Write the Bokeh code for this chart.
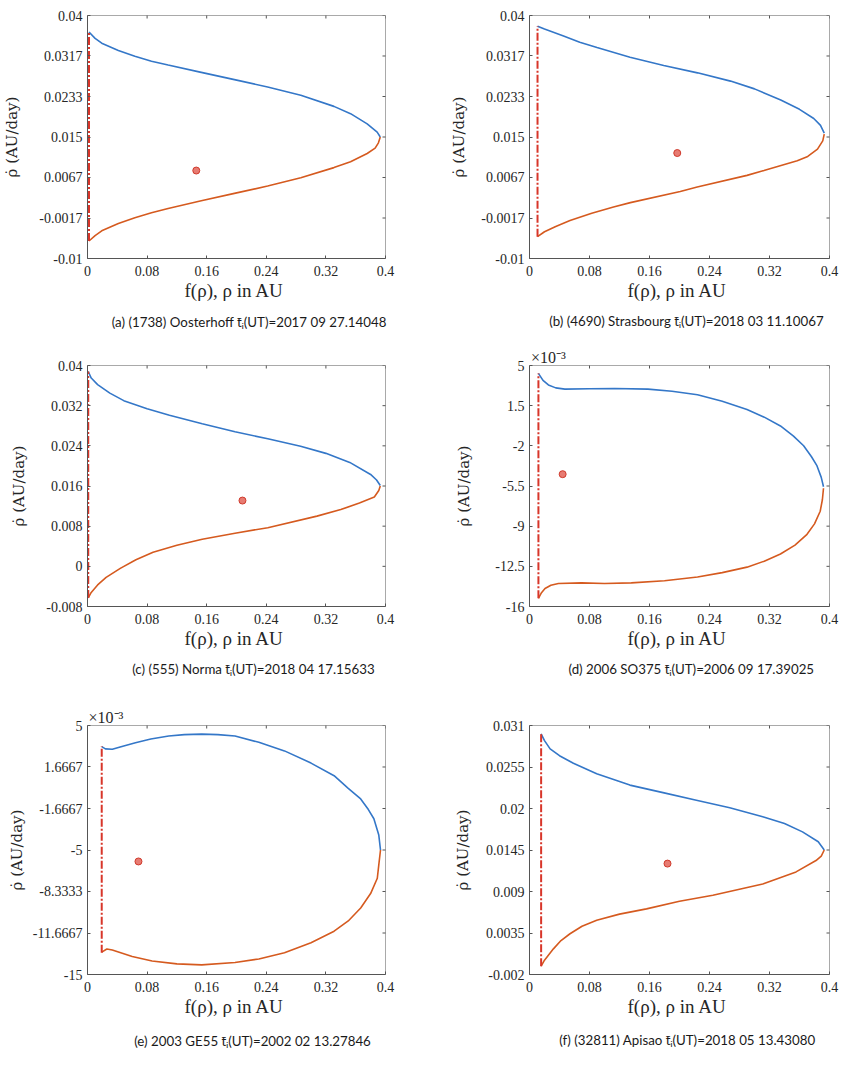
import math
from bokeh.plotting import figure
from bokeh.models import Range1d, FixedTicker, Title
from bokeh.layouts import gridplot
from bokeh.embed import file_html
from bokeh.resources import INLINE

# ---------------- data ----------------
X_TICKS = [0, 0.08, 0.16, 0.24, 0.32, 0.4]
X_TICK_LABELS = ["0", "0.08", "0.16", "0.24", "0.32", "0.4"]

# (a) (1738) Oosterhoff
A_BLUE_X = [0.002, 0.0102, 0.0191, 0.0414, 0.0636, 0.0859, 0.1082, 0.1527, 0.1972, 0.2418, 0.2863, 0.3308, 0.3531, 0.3754, 0.3888, 0.393]
A_BLUE_Y = [0.0366, 0.0353, 0.0343, 0.0328, 0.0316, 0.0306, 0.0298, 0.0283, 0.0268, 0.0253, 0.0236, 0.0213, 0.0198, 0.0177, 0.0160, 0.0150]
A_ORANGE_X = [0.393, 0.3905, 0.3861, 0.3754, 0.3531, 0.3308, 0.2863, 0.2418, 0.1972, 0.1527, 0.1082, 0.0859, 0.0636, 0.0414, 0.0191, 0.0102, 0.002]
A_ORANGE_Y = [0.0150, 0.0138, 0.0127, 0.0116, 0.0099, 0.0087, 0.0066, 0.0049, 0.0034, 0.0019, 0.0003, -0.0006, -0.0016, -0.0028, -0.0043, -0.0053, -0.0064]
A_LIMIT_X = [0.002, 0.002]
A_LIMIT_Y = [-0.0064, 0.0366]
A_POINT = [0.146, 0.0081]
A_Y_TICKS = [-0.01, -0.0016667, 0.0066667, 0.015, 0.0233333, 0.0316667, 0.04]
A_Y_LABELS = ["-0.01", "-0.0017", "0.0067", "0.015", "0.0233", "0.0317", "0.04"]

# (b) (4690) Strasbourg
B_BLUE_X = [0.0107, 0.02, 0.0454, 0.067, 0.090, 0.134, 0.179, 0.224, 0.268, 0.30, 0.335, 0.36, 0.379, 0.388, 0.393]
B_BLUE_Y = [0.0378, 0.0372, 0.0358, 0.0345, 0.0334, 0.0314, 0.0297, 0.0282, 0.0265, 0.0249, 0.0226, 0.0207, 0.0188, 0.0174, 0.0158]
B_ORANGE_X = [0.393, 0.391, 0.384, 0.371, 0.357, 0.3126, 0.290, 0.2236, 0.201, 0.1345, 0.112, 0.083, 0.054, 0.035, 0.02, 0.0107]
B_ORANGE_Y = [0.0156, 0.0142, 0.0125, 0.0110, 0.0101, 0.0081, 0.0071, 0.0047, 0.0038, 0.0015, 0.0006, -0.0007, -0.0022, -0.0034, -0.0045, -0.0055]
B_LIMIT_X = [0.0107, 0.0107]
B_LIMIT_Y = [-0.0055, 0.0378]
B_POINT = [0.197, 0.0117]
B_Y_TICKS = A_Y_TICKS
B_Y_LABELS = A_Y_LABELS

# (c) (555) Norma
C_BLUE_X = [0.001, 0.005, 0.0136, 0.03, 0.0487, 0.08, 0.110, 0.154, 0.198, 0.242, 0.286, 0.32, 0.352, 0.38, 0.388, 0.393]
C_BLUE_Y = [0.0388, 0.0375, 0.0362, 0.0345, 0.0330, 0.0314, 0.0301, 0.0284, 0.0268, 0.0254, 0.0239, 0.0225, 0.0207, 0.0183, 0.0172, 0.0161]
C_ORANGE_X = [0.393, 0.391, 0.385, 0.365, 0.34, 0.308, 0.242, 0.198, 0.154, 0.12, 0.088, 0.065, 0.044, 0.025, 0.0136, 0.005, 0.001]
C_ORANGE_Y = [0.0160, 0.0151, 0.0138, 0.0126, 0.0113, 0.0100, 0.0077, 0.0066, 0.0054, 0.0042, 0.0028, 0.0013, -0.0004, -0.0022, -0.0037, -0.0052, -0.0063]
C_LIMIT_X = [0.001, 0.001]
C_LIMIT_Y = [-0.0063, 0.0388]
C_POINT = [0.208, 0.0131]
C_Y_TICKS = [-0.008, 0, 0.008, 0.016, 0.024, 0.032, 0.04]
C_Y_LABELS = ["-0.008", "0", "0.008", "0.016", "0.024", "0.032", "0.04"]

# (d) 2006 SO375   (values in 1e-3 AU/day)
D_BLUE_X = [0.0119, 0.018, 0.0252, 0.035, 0.0472, 0.08, 0.1135, 0.158, 0.19, 0.224, 0.257, 0.290, 0.313, 0.3346, 0.352, 0.3655, 0.376, 0.383, 0.389, 0.392]
D_BLUE_Y = [4.31, 3.7, 3.31, 3.05, 2.94, 2.97, 2.99, 2.94, 2.75, 2.45, 1.88, 1.16, 0.5, -0.27, -1.15, -1.99, -2.95, -3.70, -4.75, -5.56]
D_ORANGE_X = [0.392, 0.3905, 0.3876, 0.38, 0.370, 0.354, 0.3346, 0.313, 0.290, 0.257, 0.224, 0.18, 0.1357, 0.1, 0.0694, 0.0385, 0.0285, 0.0207, 0.016, 0.0119]
D_ORANGE_Y = [-5.7, -6.7, -7.70, -8.8, -9.71, -10.65, -11.43, -12.05, -12.57, -13.05, -13.43, -13.75, -13.94, -14.0, -13.94, -14.0, -14.15, -14.43, -14.8, -15.29]
D_LIMIT_X = [0.0119, 0.0119]
D_LIMIT_Y = [-15.29, 4.31]
D_POINT = [0.0442, -4.47]
D_Y_TICKS = [-16, -12.5, -9, -5.5, -2, 1.5, 5]
D_Y_LABELS = ["-16", "-12.5", "-9", "-5.5", "-2", "1.5", "5"]

# (e) 2003 GE55   (values in 1e-3 AU/day)
E_BLUE_X = [0.0191, 0.024, 0.0333, 0.045, 0.0644, 0.085, 0.109, 0.13, 0.1533, 0.175, 0.198, 0.23, 0.2644, 0.30, 0.331, 0.35, 0.3667, 0.377, 0.3844, 0.391, 0.3933]
E_BLUE_Y = [3.30, 3.12, 3.09, 3.3, 3.62, 3.92, 4.16, 4.27, 4.31, 4.27, 4.16, 3.65, 2.96, 1.98, 0.97, -0.05, -0.90, -1.75, -2.49, -3.8, -5.0]
E_ORANGE_X = [0.3933, 0.391, 0.389, 0.38, 0.3667, 0.35, 0.331, 0.30, 0.2644, 0.23, 0.198, 0.1533, 0.12, 0.0867, 0.06, 0.0333, 0.026, 0.0191]
E_ORANGE_Y = [-5.0, -6.2, -7.27, -8.5, -9.66, -10.7, -11.52, -12.45, -13.25, -13.75, -14.04, -14.23, -14.15, -13.91, -13.55, -13.03, -12.95, -13.2]
E_LIMIT_X = [0.0191, 0.0191]
E_LIMIT_Y = [-13.25, 3.33]
E_POINT = [0.0684, -5.92]
E_Y_TICKS = [-15, -11.6667, -8.3333, -5, -1.6667, 1.6667, 5]
E_Y_LABELS = ["-15", "-11.6667", "-8.3333", "-5", "-1.6667", "1.6667", "5"]

# (f) (32811) Apisao
F_BLUE_X = [0.0155, 0.02, 0.0275, 0.04, 0.0585, 0.0896, 0.1338, 0.178, 0.2225, 0.267, 0.311, 0.34, 0.364, 0.385, 0.393]
F_BLUE_Y = [0.0299, 0.0290, 0.0279, 0.0270, 0.0260, 0.0246, 0.0231, 0.0221, 0.0211, 0.0201, 0.0189, 0.0180, 0.0169, 0.0156, 0.0145]
F_ORANGE_X = [0.393, 0.389, 0.382, 0.3554, 0.311, 0.2445, 0.2, 0.156, 0.12, 0.0896, 0.07, 0.054, 0.042, 0.0319, 0.02, 0.0155]
F_ORANGE_Y = [0.0145, 0.0137, 0.0131, 0.0116, 0.0100, 0.0085, 0.0077, 0.0067, 0.0060, 0.0052, 0.0044, 0.0034, 0.0025, 0.0014, -0.0001, -0.0009]
F_LIMIT_X = [0.0155, 0.0155]
F_LIMIT_Y = [-0.0009, 0.0299]
F_POINT = [0.184, 0.0127]
F_Y_TICKS = [-0.002, 0.0035, 0.009, 0.0145, 0.02, 0.0255, 0.031]
F_Y_LABELS = ["-0.002", "0.0035", "0.009", "0.0145", "0.02", "0.0255", "0.031"]

CAPTIONS = [
    "(a)  (1738) Oosterhoff t\u0304\u1d62(UT)=2017 09 27.14048",
    "(b) (4690) Strasbourg t\u0304\u1d62(UT)=2018 03 11.10067",
    "(c) (555) Norma t\u0304\u1d62(UT)=2018 04 17.15633",
    "(d) 2006 SO375 t\u0304\u1d62(UT)=2006 09 17.39025",
    "(e) 2003 GE55 t\u0304\u1d62(UT)=2002 02 13.27846",
    "(f) (32811) Apisao t\u0304\u1d62(UT)=2018 05 13.43080",
]
X_LABEL = "f(\u03c1),  \u03c1 in AU"
Y_LABEL = "\u03c1\u0307 (AU/day)"
SCALE_TEXT = "\u00d710\u207b\u00b3"

# ---------------- styling ----------------
BLUE = "#3477c8"
ORANGE = "#d55a1f"
RED = "#d8362a"
AXIS = "#555555"
TXT = "#262626"
SERIF = "Liberation Serif"
SANS = "Lato"


def make_panel(w, h, L, R, T, B, bx, by, ox, oy, lx, ly, pt, yticks, ylabels,
               caption, cap_off, cap_standoff, ylab_standoff, scale=None):
    p = figure(width=w, height=h, output_backend="svg", toolbar_location=None,
               x_range=Range1d(X_TICKS[0], X_TICKS[-1]), y_range=Range1d(yticks[0], yticks[-1]),
               min_border_left=L, min_border_right=R, min_border_top=T, min_border_bottom=B,
               background_fill_color="white", border_fill_color="white")
    p.outline_line_color = None
    p.xgrid.visible = False
    p.ygrid.visible = False

    # scale factor above the axes (x10^-3) uses the plot title slot
    if scale is not None:
        p.title.text = SCALE_TEXT
        p.title.align = "left"
        p.title.offset = scale
        p.title.standoff = 0
        p.title.text_font = SERIF
        p.title.text_font_size = "16px"
        p.title.text_font_style = "normal"
        p.title.text_color = TXT
    else:
        p.title.visible = False

    xo = {float(t): s for t, s in zip(X_TICKS, X_TICK_LABELS)}
    yo = {float(t): s for t, s in zip(yticks, ylabels)}

    for ax in p.xaxis:
        ax.ticker = FixedTicker(ticks=X_TICKS, minor_ticks=[])
        ax.major_label_overrides = xo
        ax.major_label_standoff = 7
        ax.axis_label = X_LABEL
        ax.axis_label_standoff = 1
        ax.axis_label_text_font = SERIF
        ax.axis_label_text_font_size = "19px"
    for ax in p.yaxis:
        ax.ticker = FixedTicker(ticks=yticks, minor_ticks=[])
        ax.major_label_overrides = yo
        ax.major_label_standoff = 5
        ax.axis_label = Y_LABEL
        ax.axis_label_standoff = int(round(ylab_standoff))
        ax.axis_label_text_font = "DejaVu Serif"
        ax.axis_label_text_font_size = "15px"
    for ax in p.axis:
        ax.axis_line_color = AXIS
        ax.axis_line_width = 1
        ax.major_tick_line_color = AXIS
        ax.major_tick_in = 3
        ax.major_tick_out = 0
        ax.minor_tick_line_color = None
        ax.major_label_text_font = SERIF
        ax.major_label_text_font_size = "14px"
        ax.major_label_text_color = TXT
        ax.axis_label_text_font_style = "normal"
        ax.axis_label_text_color = TXT

    # box: right and top edges with inward ticks
    p.line([X_TICKS[-1], X_TICKS[-1]], [yticks[0], yticks[-1]], line_color=AXIS, line_width=1)
    p.line([X_TICKS[0], X_TICKS[-1]], [yticks[-1], yticks[-1]], line_color=AXIS, line_width=1)
    p.scatter([X_TICKS[-1]] * len(yticks), yticks, marker="dash", size=6,
              line_color=AXIS, line_width=1)
    p.scatter(X_TICKS, [yticks[-1]] * len(X_TICKS), marker="dash", size=6, angle=math.pi / 2,
              line_color=AXIS, line_width=1)

    p.line(bx, by, line_color=BLUE, line_width=1.6)
    p.line(ox, oy, line_color=ORANGE, line_width=1.6)
    p.line(lx, ly, line_color=RED, line_width=2, line_dash="8 2 2 2")
    p.scatter([pt[0]], [pt[1]], size=7, fill_color="#e77b72", line_color="#d03a2c", line_width=1)

    p.add_layout(Title(text=caption, align="left", offset=cap_off, standoff=int(round(cap_standoff)),
                       text_font=SANS, text_font_size="13.3px", text_font_style="normal",
                       text_color="#1a1a1a"), "below")
    return p


pa = make_panel(430, 340, 86, 45, 15, 82, A_BLUE_X, A_BLUE_Y, A_ORANGE_X, A_ORANGE_Y,
                A_LIMIT_X, A_LIMIT_Y, A_POINT, A_Y_TICKS, A_Y_LABELS,
                CAPTIONS[0], 24.3, 16, 15)
pb = make_panel(429, 340, 99, 30, 15, 82, B_BLUE_X, B_BLUE_Y, B_ORANGE_X, B_ORANGE_Y,
                B_LIMIT_X, B_LIMIT_Y, B_POINT, B_Y_TICKS, B_Y_LABELS,
                CAPTIONS[1], 19.7, 15, 10)
pc = make_panel(430, 350, 83, 43, 19, 84, C_BLUE_X, C_BLUE_Y, C_ORANGE_X, C_ORANGE_Y,
                C_LIMIT_X, C_LIMIT_Y, C_POINT, C_Y_TICKS, C_Y_LABELS,
                CAPTIONS[2], 44.7, 15, 15)
pd_ = make_panel(429, 350, 98, 30, 25, 80, D_BLUE_X, D_BLUE_Y, D_ORANGE_X, D_ORANGE_Y,
                 D_LIMIT_X, D_LIMIT_Y, D_POINT, D_Y_TICKS, D_Y_LABELS,
                 CAPTIONS[3], 39, 15, 19, scale=1.6)
pe = make_panel(430, 378, 85, 45, 33, 94, E_BLUE_X, E_BLUE_Y, E_ORANGE_X, E_ORANGE_Y,
                E_LIMIT_X, E_LIMIT_Y, E_POINT, E_Y_TICKS, E_Y_LABELS,
                CAPTIONS[4], 46.7, 22, 4, scale=1)
pf = make_panel(429, 378, 99, 29, 35, 94, F_BLUE_X, F_BLUE_Y, F_ORANGE_X, F_ORANGE_Y,
                F_LIMIT_X, F_LIMIT_Y, F_POINT, F_Y_TICKS, F_Y_LABELS,
                CAPTIONS[5], 29.7, 20, 11)

grid = gridplot([[pa, pb], [pc, pd_], [pe, pf]], toolbar_location=None)
open("out.html", "w").write(file_html(grid, INLINE))
